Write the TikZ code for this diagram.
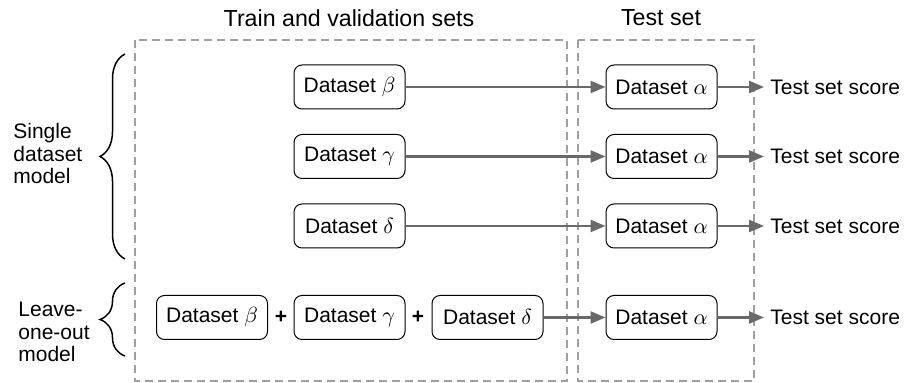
\documentclass[tikz,border=0pt]{standalone}
\usepackage{fontspec}
\setmainfont{Liberation Sans}
\definecolor{ln}{RGB}{105, 105, 105}
\definecolor{dsh}{RGB}{160, 160, 160}
\usetikzlibrary{arrows.meta}
\usetikzlibrary{decorations.pathreplacing}

\begin{document}
\begin{tikzpicture}
				[x=0.5pt,y=-0.5pt,every node/.style={font=\fontsize{10.5}{11.25}\selectfont},
				dset/.style={rounded corners=4pt, draw=black, line width=0.5pt, minimum width=55.5pt, minimum height=22pt, inner sep=0pt},
				flow/.style={line width=1.2pt, draw=ln, -{Triangle[length=7.5pt,width=6pt]}},
				setbox/.style={line width=0.75pt, draw=dsh, dash pattern=on 4pt off 2.5pt},
				curly/.style={line width=0.75pt, draw=black, decorate, decoration={brace, amplitude=12.5pt}}]
				\useasboundingbox (0, 0) rectangle (904, 383);
				\draw [setbox] (135, 40) rectangle (567, 381);
				\draw [setbox] (578, 40) rectangle (754, 381);
				\node (train) [font=\fontsize{11.6}{13}\selectfont] at (349, 18) {Train and validation sets};
				\node (test) [font=\fontsize{11.6}{13}\selectfont] at (661, 18) {Test set};
				\node (b1) [dset] at (349.5, 87) {Dataset $\beta$};
				\node (g1) [dset] at (349.5, 156.5) {Dataset $\gamma$};
				\node (d1) [dset] at (349.5, 226) {Dataset $\delta$};
				\node (b2) [dset] at (212, 317.5) {Dataset $\beta$};
				\node (p1) at (281, 317.5) {\textbf{+}};
				\node (g2) [dset] at (349.5, 317.5) {Dataset $\gamma$};
				\node (p2) at (418, 317.5) {\textbf{+}};
				\node (d2) [dset] at (487.5, 317.5) {Dataset $\delta$};
				\node (a1) [dset] at (661.5, 87) {Dataset $\alpha$};
				\node (a2) [dset] at (661.5, 156.5) {Dataset $\alpha$};
				\node (a3) [dset] at (661.5, 226) {Dataset $\alpha$};
				\node (a4) [dset] at (661.5, 317.5) {Dataset $\alpha$};
				\node (s1) [anchor=west, inner sep=3pt] at (764, 87) {Test set score};
				\node (s2) [anchor=west, inner sep=3pt] at (764, 156.5) {Test set score};
				\node (s3) [anchor=west, inner sep=3pt] at (764, 226) {Test set score};
				\node (s4) [anchor=west, inner sep=3pt] at (764, 317.5) {Test set score};
				\draw [flow] (b1) to (a1);
				\draw [flow] (g1) to (a2);
				\draw [flow] (d1) to (a3);
				\draw [flow] (d2) to (a4);
				\draw [flow] (a1) to (s1);
				\draw [flow] (a2) to (s2);
				\draw [flow] (a3) to (s3);
				\draw [flow] (a4) to (s4);
				\coordinate (c1) at (125, 259);
				\coordinate (c2) at (125, 54);
				\coordinate (c3) at (125, 356);
				\coordinate (c4) at (125, 283);
				\draw [curly] (c1) to (c2);
				\draw [curly] (c3) to (c4);
				\node (single) [anchor=west, align=left, inner sep=0pt] at (13, 154) {Single\\dataset\\model};
				\node (loo) [anchor=west, align=left, inner sep=0pt] at (18, 332) {Leave-\\one-out\\model};
		\end{tikzpicture}
\end{document}
